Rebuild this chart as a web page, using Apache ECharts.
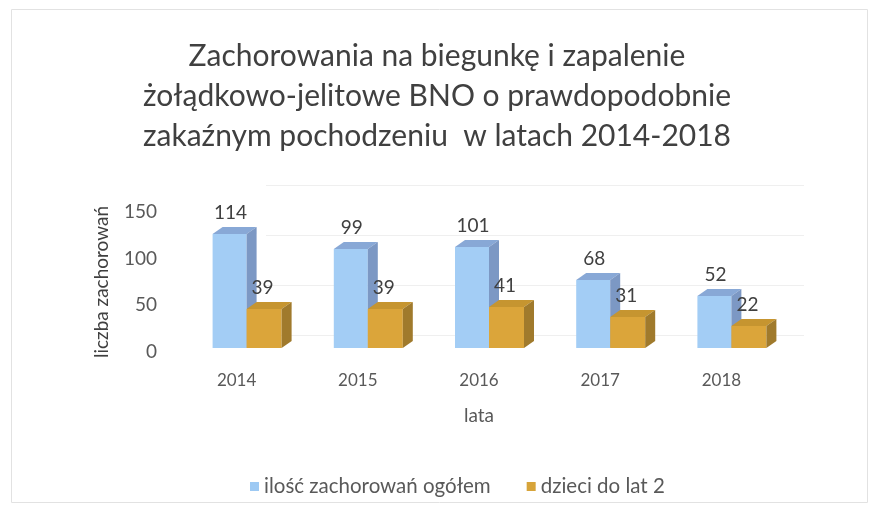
<!DOCTYPE html>
<html>
<head>
<meta charset="utf-8">
<script src="https://cdn.jsdelivr.net/npm/echarts@6/dist/echarts.min.js"></script>
<style>
  html, body { margin: 0; padding: 0; background: #fff; }
  #chart { width: 874px; height: 507px; }
</style>
</head>
<body>
<div id="chart"></div>
<script>
// dane
const lata = ['2014', '2015', '2016', '2017', '2018'];
const ogolem = [114, 99, 101, 68, 52];
const dzieci = [39, 39, 41, 31, 22];
const yTicks = [0, 50, 100, 150];

const FONT = 'Lato, "Open Sans", sans-serif';
const chart = echarts.init(document.getElementById('chart'));

// rysuje prostopadloscian (przod, gora, bok) + etykiete
function box3d(front, top, side, offX, width, labOff) {
  return function (params, api) {
    const i = api.value(0);
    const v = api.value(1);
    const p = api.coord([i, v]);
    const base = api.coord([i, 0])[1];
    const x0 = p[0] + offX;
    const y0 = p[1];
    const dx = 10, dy = -7;
    return {
      type: 'group',
      children: [
        { type: 'rect', shape: { x: x0, y: y0, width: width, height: base - y0 }, style: { fill: front } },
        { type: 'polygon', shape: { points: [[x0, y0], [x0 + dx, y0 + dy], [x0 + width + dx, y0 + dy], [x0 + width, y0]] }, style: { fill: top } },
        { type: 'polygon', shape: { points: [[x0 + width, y0], [x0 + width + dx, y0 + dy], [x0 + width + dx, base + dy], [x0 + width, base]] }, style: { fill: side } },
        { type: 'text', style: { text: String(v), x: x0 + labOff, y: y0 - 21, align: 'center', verticalAlign: 'middle', fill: '#404040', font: '19px ' + FONT } }
      ]
    };
  };
}

const option = {
  backgroundColor: '#fff',
  animation: false,
  title: {
    text: 'Zachorowania na biegunkę i zapalenie\nżołądkowo-jelitowe BNO o prawdopodobnie\nzakaźnym pochodzeniu  w latach 2014-2018',
    left: 'center',
    top: 31,
    textStyle: { fontFamily: FONT, fontSize: 30, fontWeight: 'normal', color: '#404040', lineHeight: 40 }
  },
  legend: {
    data: ['ilość zachorowań ogółem', 'dzieci do lat 2'],
    left: 245, top: 471,
    icon: 'rect', itemWidth: 9, itemHeight: 9, itemGap: 36,
    textStyle: { fontFamily: FONT, fontSize: 20.5, color: '#595959' }
  },
  grid: [
    { left: 176, right: 92, top: 212, height: 140 },
    { left: 176, right: 92, top: 198, height: 150 },
    { left: 266, right: 70, top: 185, height: 150 }
  ],
  xAxis: [
    {
      type: 'category', gridIndex: 0, data: lata,
      axisLine: { show: false }, axisTick: { show: false },
      axisLabel: { margin: 20, fontFamily: FONT, fontSize: 17, color: '#595959' },
      name: 'lata', nameLocation: 'middle', nameGap: 54,
      nameTextStyle: { fontFamily: FONT, fontSize: 19, color: '#595959' }
    },
    { type: 'category', gridIndex: 1, data: lata, show: false },
    { type: 'category', gridIndex: 2, data: lata, show: false }
  ],
  yAxis: [
    {
      type: 'value', gridIndex: 0, min: 0, max: 150, interval: 50,
      axisLine: { show: false }, axisTick: { show: false }, splitLine: { show: false },
      axisLabel: { margin: 19, fontFamily: FONT, fontSize: 19, color: '#595959',
        formatter: v => yTicks.includes(v) ? String(v) : '' },
      name: 'liczba zachorowań', nameLocation: 'middle', nameGap: 65, nameRotate: 90,
      nameTextStyle: { fontFamily: FONT, fontSize: 19, color: '#404040' }
    },
    { type: 'value', gridIndex: 1, min: 0, max: 150, show: false },
    {
      type: 'value', gridIndex: 2, min: 0, max: 150, interval: 50,
      axisLine: { show: false }, axisTick: { show: false }, axisLabel: { show: false },
      splitLine: { lineStyle: { color: '#efefef', width: 1 } }
    }
  ],
  series: [
    {
      name: 'ilość zachorowań ogółem', type: 'custom', xAxisIndex: 1, yAxisIndex: 1,
      itemStyle: { color: '#9dc9f3' },
      renderItem: box3d('#a3cdf5', '#88a8d6', '#7c98c4', -24, 34, 18),
      encode: { x: 0, y: 1 },
      data: lata.map((_, i) => [i, ogolem[i]])
    },
    {
      name: 'dzieci do lat 2', type: 'custom', xAxisIndex: 1, yAxisIndex: 1,
      itemStyle: { color: '#d7a43a' },
      renderItem: box3d('#dba53a', '#c69530', '#a07a2c', 10, 35, 16),
      encode: { x: 0, y: 1 },
      data: lata.map((_, i) => [i, dzieci[i]])
    }
  ],
  graphic: [
    { type: 'rect', left: 9, top: 7, shape: { width: 856, height: 493 }, style: { fill: 'none', stroke: '#e2e2e2', lineWidth: 1 } }
  ]
};
chart.setOption(option);
</script>
</body>
</html>
